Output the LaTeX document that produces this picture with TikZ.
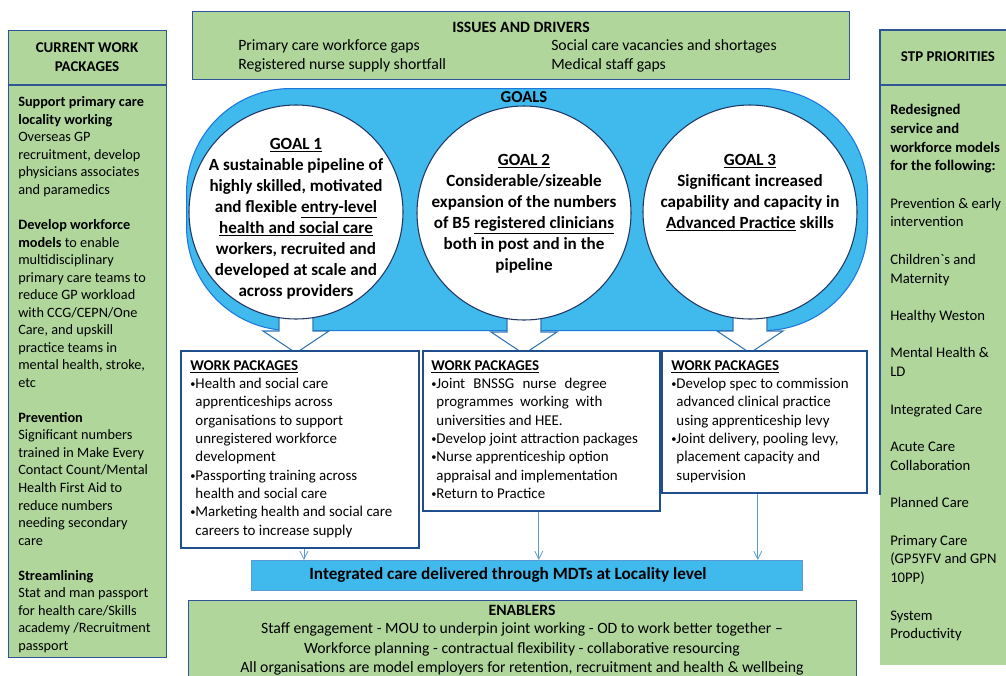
\documentclass[tikz,border=0pt]{standalone}
\usepackage{fontspec}
\setmainfont{Carlito}[Ligatures=TeXOff]
\usetikzlibrary{positioning,calc,arrows.meta}

\definecolor{stpgreen}{RGB}{176,214,156}
\definecolor{boxblue}{RGB}{47,85,151}
\definecolor{goalcyan}{RGB}{64,185,236}
\definecolor{capline}{RGB}{30,120,220}
\definecolor{navyline}{RGB}{31,56,100}
\definecolor{wpblue}{RGB}{31,78,140}
\definecolor{arrowblue}{RGB}{46,117,182}
\definecolor{thinblue}{RGB}{91,155,213}

\newcommand{\wpdot}{\raisebox{0.12ex}{\scalebox{0.7}{•}}}
\newcommand{\wpind}{\hphantom{\wpdot}}

\begin{document}
\begin{tikzpicture}[x=0.75pt, y=-0.75pt,
    greenbox/.style={draw=boxblue, fill=stpgreen, line width=0.8pt, anchor=north west, inner sep=0},
    wpbox/.style={draw=wpblue, fill=white, line width=1.4pt, anchor=north west, inner sep=0},
    goal/.style={circle, draw=navyline, fill=white, line width=0.8pt, minimum size=160.5pt, inner sep=0},
    blockarrow/.style={draw=arrowblue, fill=white, line width=0.8pt},
    thinarrow/.style={draw=thinblue, line width=0.6pt, -{Straight Barb[length=6pt, width=6pt]}},
    sidetext/.style={anchor=north west, align=left, inner sep=0, font=\fontsize{10.7}{13.15}\selectfont},
    righttext/.style={anchor=north west, align=left, inner sep=0, font=\fontsize{11}{14.04}\selectfont},
    wptext/.style={anchor=north west, align=left, inner sep=0, font=\fontsize{11.2}{13.75}\selectfont},
    goaltext/.style={anchor=north, align=center, inner sep=0, font=\bfseries\fontsize{12.8}{15.75}\selectfont},
    issuetext/.style={anchor=west, inner sep=0, font=\fontsize{11.8}{14.25}\selectfont},
    head/.style={align=center, inner sep=0, font=\bfseries\fontsize{11.2}{14.25}\selectfont}
]
    \useasboundingbox (0,0) rectangle (1006,675);

    % Side columns
    \node[greenbox, minimum width=118.5pt, minimum height=470.25pt] (lbox) at (8,30) {};
    \draw[boxblue, line width=0.8pt] ($(lbox.north west)+(0,55)$) -- ($(lbox.north east)+(0,55)$);
    \node[head] (lhead) at (87,57.5) {CURRENT WORK\\PACKAGES};

    \node[fill=stpgreen, anchor=north west, inner sep=0, minimum width=97.5pt, minimum height=476.25pt] (rbox) at (880,30) {};
    \draw[boxblue, line width=0.8pt] ($(rbox.north west)+(0,465)$) -- (rbox.north west) -- (rbox.north east);
    \draw[boxblue, line width=0.8pt] ($(rbox.north west)+(0,55)$) -- ($(rbox.north east)+(0,55)$);
    \node[head] (rhead) at (948,57) {STP PRIORITIES};

    \node[sidetext] (ltext) at (18,96.5) {\textbf{Support primary care}\\
        \textbf{locality working}\\
        Overseas GP\\
        recruitment, develop\\
        physicians associates\\
        and paramedics\\[13.15pt]
        \textbf{Develop workforce}\\
        \textbf{models} to enable\\
        multidisciplinary\\
        primary care teams to\\
        reduce GP workload\\
        with CCG/CEPN/One\\
        Care, and upskill\\
        practice teams in\\
        mental health, stroke,\\
        etc\\[13.15pt]
        \textbf{Prevention}\\
        Significant numbers\\
        trained in Make Every\\
        Contact Count/Mental\\
        Health First Aid to\\
        reduce numbers\\
        needing secondary\\
        care\\[13.15pt]
        \textbf{Streamlining}\\
        Stat and man passport\\
        for health care/Skills\\
        academy /Recruitment\\
        passport};

    \node[righttext] (rtext) at (890,104) {\textbf{Redesigned}\\
        \textbf{service and}\\
        \textbf{workforce models}\\
        \textbf{for the following:}\\[14.04pt]
        Prevention \& early\\
        intervention\\[14.04pt]
        Children`s and\\
        Maternity\\[14.04pt]
        Healthy Weston\\[14.04pt]
        Mental Health \&\\
        LD\\[14.04pt]
        Integrated Care\\[14.04pt]
        Acute Care\\
        Collaboration\\[14.04pt]
        Planned Care\\[14.04pt]
        Primary Care\\
        (GP5YFV and GPN\\
        10PP)\\[14.04pt]
        System\\
        Productivity};

    % Issues and drivers
    \node[greenbox, minimum width=492.75pt, minimum height=51pt] (issues) at (192,11) {};
    \node[head, font=\bfseries\fontsize{11.8}{14.25}\selectfont] (ihead) at (521,27) {ISSUES AND DRIVERS};
    \node[issuetext] (i1) at (238,46.5) {Primary care workforce gaps};
    \node[issuetext] (i2) at (238,65.5) {Registered nurse supply shortfall};
    \node[issuetext] (i3) at (551,46.5) {Social care vacancies and shortages};
    \node[issuetext] (i4) at (551,65.5) {Medical staff gaps};

    % Goals band
    \node[draw=capline, fill=goalcyan, line width=0.8pt, rounded corners=78pt, anchor=north west,
          inner sep=0, minimum width=510.75pt, minimum height=181.5pt] (band) at (186,88) {};
    \node[head, font=\bfseries\fontsize{12.5}{15}\selectfont] (ghead) at (524,97.5) {GOALS};

    \coordinate (c1) at (296,212);
    \coordinate (c2) at (524,213);
    \coordinate (c3) at (750,212);
    \draw[blockarrow] ($(c1)+(-17,104)$) -- ++(0,15) -- ++(-16,0) -- ++(33,22) -- ++(33,-22) -- ++(-16,0) -- ++(0,-15) -- cycle;
    \draw[blockarrow] ($(c2)+(-17,104)$) -- ++(0,15) -- ++(-16,0) -- ++(33,22) -- ++(33,-22) -- ++(-16,0) -- ++(0,-15) -- cycle;
    \draw[blockarrow] ($(c3)+(-17,104)$) -- ++(0,15) -- ++(-16,0) -- ++(33,22) -- ++(33,-22) -- ++(-16,0) -- ++(0,-15) -- cycle;

    \node[goal] (g1) at (c1) {};
    \node[goal] (g2) at (c2) {};
    \node[goal] (g3) at (c3) {};

    \node[goaltext] (g1text) at (296,138) {\underline{GOAL 1}\\
        A sustainable pipeline of\\
        highly skilled, motivated\\
        and flexible \underline{entry-level}\\
        \underline{health and social care}\\
        workers, recruited and\\
        developed at scale and\\
        across providers};
    \node[goaltext] (g2text) at (524,154) {\underline{GOAL 2}\\
        Considerable/sizeable\\
        expansion of the numbers\\
        of B5 \underline{registered clinicians}\\
        both in post and in the\\
        pipeline};
    \node[goaltext] (g3text) at (750,154) {\underline{GOAL 3}\\
        Significant increased\\
        capability and capacity in\\
        \underline{Advanced Practice} skills};

    % Work packages
    \node[wpbox, minimum width=178.5pt, minimum height=147.75pt] (wp1) at (180,350) {};
    \node[wpbox, minimum width=177.75pt, minimum height=120pt] (wp2) at (422,350) {};
    \node[wpbox, minimum width=153.75pt, minimum height=106.5pt] (wp3) at (661,350) {};

    \node[wptext] (wp1text) at (190,360) {\underline{\textbf{WORK PACKAGES}}\\
        \wpdot Health and social care\\
        \wpind apprenticeships across\\
        \wpind organisations to support\\
        \wpind unregistered workforce\\
        \wpind development\\
        \wpdot Passporting training across\\
        \wpind health and social care\\
        \wpdot Marketing health and social care\\
        \wpind careers to increase supply};
    \node[wptext] (wp2text) at (431,360) {\underline{\textbf{WORK PACKAGES}}\\
        \wpdot Joint\hspace{0.55em}BNSSG\hspace{0.55em}nurse\hspace{0.55em}degree\\
        \wpind programmes\hspace{0.45em}working\hspace{0.45em}with\\
        \wpind universities and HEE.\\
        \wpdot Develop joint attraction packages\\
        \wpdot Nurse apprenticeship option\\
        \wpind appraisal and implementation\\
        \wpdot Return to Practice};
    \node[wptext] (wp3text) at (671,360) {\underline{\textbf{WORK PACKAGES}}\\
        \wpdot Develop spec to commission\\
        \wpind advanced clinical practice\\
        \wpind using apprenticeship levy\\
        \wpdot Joint delivery, pooling levy,\\
        \wpind placement capacity and\\
        \wpind supervision};

    % Integrated care box
    \node[draw=thinblue, fill=goalcyan, line width=0.8pt, anchor=north west, inner sep=0,
          minimum width=413.25pt, minimum height=22.5pt] (mdt) at (251,560) {};
    \node[font=\bfseries\fontsize{12.9}{15}\selectfont, inner sep=0] (mdttext) at (508,575) {Integrated care delivered through MDTs at Locality level};

    \draw[thinarrow] ([xshift=3pt]wp1.south) -- ([xshift=3pt]wp1.south |- mdt.north);
    \draw[thinarrow] ([xshift=-2pt]wp2.south) -- ([xshift=-2pt]wp2.south |- mdt.north);
    \draw[thinarrow] ([xshift=-5pt]wp3.south) -- ([xshift=-5pt]wp3.south |- mdt.north);

    % Enablers
    \node[greenbox, minimum width=501pt, minimum height=66pt] (enablers) at (188,600) {};
    \node[head, font=\bfseries\fontsize{11.8}{14.25}\selectfont] (ehead) at (522,610.5) {ENABLERS};
    \node[align=center, inner sep=0, font=\fontsize{11.8}{14.6}\selectfont, anchor=north] (etext) at (522,622.5)
        {Staff engagement - MOU to underpin joint working - OD to work better together –\\
         Workforce planning - contractual flexibility - collaborative resourcing\\
         All organisations are model employers for retention, recruitment and health \& wellbeing};
\end{tikzpicture}
\end{document}
